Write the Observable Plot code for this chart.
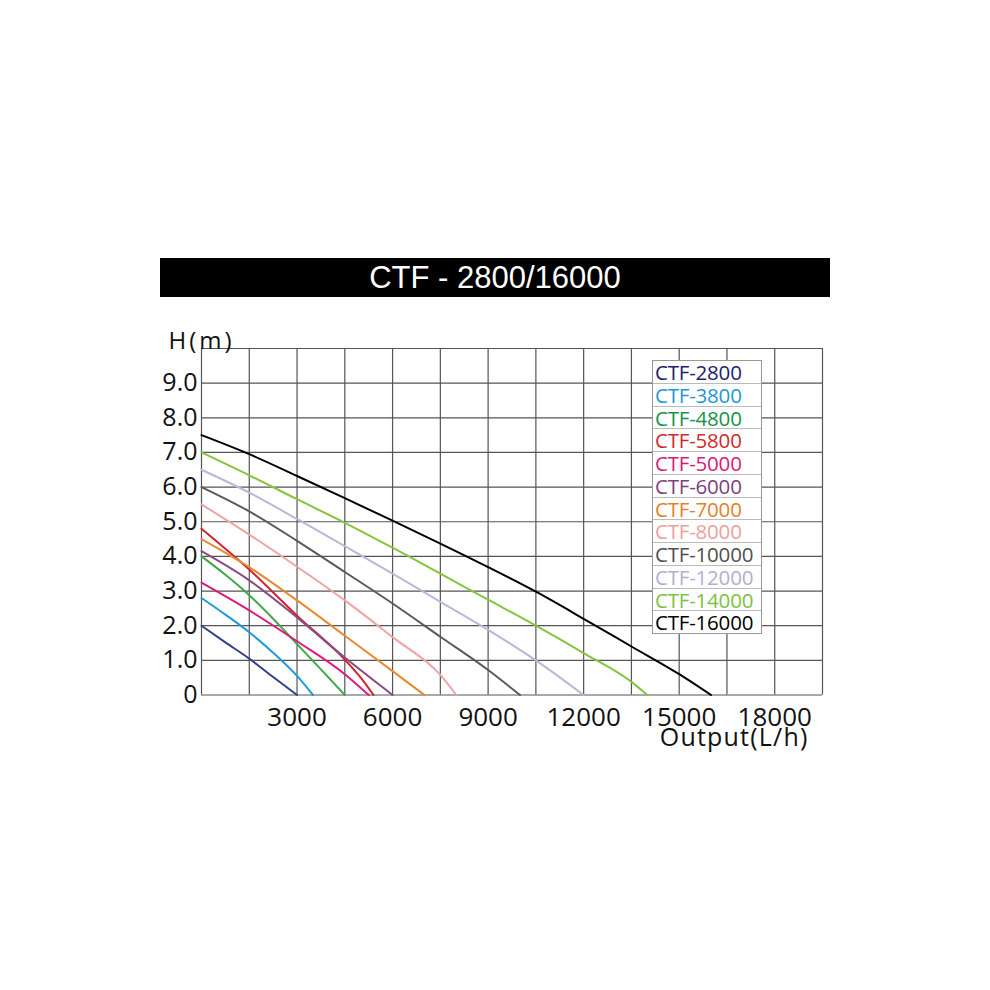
<!DOCTYPE html>
<html>
<head>
<meta charset="utf-8">
<script src="https://cdn.jsdelivr.net/npm/d3@7"></script>
<script src="https://cdn.jsdelivr.net/npm/@observablehq/plot@0.6"></script>
<style>
  body { margin: 0; background: #fff; }
  #page { position: relative; width: 990px; height: 990px; background: #fff; }
  #title {
    position: absolute; left: 160px; top: 258px; width: 670px; height: 39px;
    background: #000; color: #fff; text-align: center; line-height: 39px;
    font-family: "Liberation Sans", Arial, sans-serif; font-size: 31px;
  }
  #chart { position: absolute; left: 0; top: 300px; }
  #legend {
    position: absolute; left: 652px; top: 360px; width: 108px;
    border: 1px solid #999; background: #fff;
    font-family: "Open Sans", sans-serif; font-size: 20.5px;
  }
  #legend div {
    height: 21.75px; line-height: 22px; padding-left: 2px; white-space: nowrap;
    border-bottom: 1px solid #bbb; letter-spacing: -0.2px;
  }
  #legend div:last-child { border-bottom: none; }
</style>
</head>
<body>
<div id="page">
  <div id="title">CTF - 2800/16000</div>
  <div id="chart"></div>
  <div id="legend"></div>
</div>
<script>
// models and colours, in legend order
const models = ["CTF-2800", "CTF-3800", "CTF-4800", "CTF-5800", "CTF-5000", "CTF-6000",
                "CTF-7000", "CTF-8000", "CTF-10000", "CTF-12000", "CTF-14000", "CTF-16000"];
const lineColors = ["#33408a", "#1f9bd7", "#3fa84b", "#d3222b", "#dc1b7b", "#8a4a86",
                    "#e9892f", "#eea4a4", "#5a5a5a", "#b9b9d7", "#86c440", "#000000"];
const textColors = ["#201e6c", "#1b98d5", "#17934a", "#d12a2a", "#d81b7a", "#7d3f7d",
                    "#e47f2a", "#eca1a1", "#4f4f4f", "#b0b0d0", "#7cc242", "#000000"];

// flow (L/h) and head (m) per model
const flow2800 = [0, 750, 1500, 2250, 3000];
const head2800 = [2.0, 1.52, 1.05, 0.52, 0];
const flow3800 = [0, 750, 1500, 2250, 3000, 3500];
const head3800 = [2.8, 2.32, 1.81, 1.22, 0.55, 0];
const flow4800 = [0, 750, 1500, 2250, 3000, 3750, 4500];
const head4800 = [4.0, 3.47, 2.88, 2.2, 1.47, 0.74, 0];
const flow5800 = [0, 1500, 3000, 4500, 5000, 5400];
const head5800 = [4.8, 3.62, 2.29, 1.02, 0.5, 0];
const flow5000 = [0, 1500, 3000, 4500, 5250];
const head5000 = [3.24, 2.44, 1.55, 0.6, 0];
const flow6000 = [0, 1500, 3000, 4500, 6000];
const head6000 = [4.15, 3.31, 2.24, 1.08, 0];
const flow7000 = [0, 1500, 3000, 4500, 6000, 7000];
const head7000 = [4.5, 3.69, 2.73, 1.71, 0.69, 0];
const flow8000 = [0, 1500, 3000, 4500, 6000, 7500, 8000];
const head8000 = [5.5, 4.63, 3.7, 2.73, 1.67, 0.58, 0];
const flow10000 = [0, 1500, 3000, 4500, 6000, 7500, 9000, 10000];
const head10000 = [6.0, 5.3, 4.45, 3.55, 2.64, 1.68, 0.72, 0];
const flow12000 = [0, 1500, 3000, 4500, 6000, 7500, 9000, 10500, 12000];
const head12000 = [6.5, 5.84, 5.08, 4.3, 3.5, 2.69, 1.88, 1.0, 0];
const flow14000 = [0, 1500, 3000, 4500, 6000, 7500, 9000, 10500, 12000, 13500, 14000];
const head14000 = [7.0, 6.34, 5.65, 4.97, 4.25, 3.5, 2.75, 2.0, 1.21, 0.38, 0];
const flow16000 = [0, 1500, 3000, 4500, 6000, 7500, 9000, 10500, 12000, 13500, 15000, 16000];
const head16000 = [7.5, 6.95, 6.32, 5.68, 5.03, 4.37, 3.69, 2.98, 2.2, 1.4, 0.6, 0];

const flows = [flow2800, flow3800, flow4800, flow5800, flow5000, flow6000,
               flow7000, flow8000, flow10000, flow12000, flow14000, flow16000];
const heads = [head2800, head3800, head4800, head5800, head5000, head6000,
               head7000, head8000, head10000, head12000, head14000, head16000];

// axes
const xTicks = [3000, 6000, 9000, 12000, 15000, 18000];
const yTicks = [0, 1, 2, 3, 4, 5, 6, 7, 8, 9];
const xGrid = [0, 1500, 3000, 4500, 6000, 7500, 9000, 10500, 12000, 13500, 15000, 16500, 18000, 19500];
const yGrid = [0, 1, 2, 3, 4, 5, 6, 7, 8, 9, 10];

const rows = models.flatMap((m, i) => flows[i].map((f, j) => ({model: m, flow: f, head: heads[i][j]})));

const gridStyle = {stroke: "#555", strokeWidth: 1.2, strokeOpacity: 1};

const chart = Plot.plot({
  width: 990,
  height: 500,
  marginLeft: 201,
  marginRight: 168,
  marginTop: 48,
  marginBottom: 105.5,
  style: {fontFamily: "Open Sans, sans-serif", fontSize: "25px", color: "#111", background: "transparent"},
  x: {domain: [0, 19500], axis: null, label: null},
  y: {domain: [0, 10], axis: null, label: null},
  color: {domain: models, range: lineColors},
  marks: [
    Plot.ruleX(xGrid, gridStyle),
    Plot.ruleY(yGrid, gridStyle),
    Plot.line(rows, {x: "flow", y: "head", z: "model", stroke: "model", strokeWidth: 2, curve: "monotone-x"}),
    Plot.axisX(xTicks, {tickSize: 0, tickPadding: 13, fontSize: 26, fill: "#111", label: null,
      tickFormat: d => String(d)}),
    Plot.axisY(yTicks, {tickSize: 0, tickPadding: 4, fontSize: 25, fill: "#111", label: null,
      tickFormat: d => d === 0 ? "0" : d.toFixed(1)}),
    Plot.text(["H(m)"], {frameAnchor: "top-left", textAnchor: "start", dx: -33, dy: -17,
      fontSize: 24, fill: "#111"}),
    Plot.text(["Output(L/h)"], {frameAnchor: "bottom-right", textAnchor: "end", dx: -14, dy: 51,
      fontSize: 25, fill: "#111"})
  ]
});
chart.querySelectorAll("text").forEach(t => {
  if (t.textContent === "H(m)") t.style.letterSpacing = "3px";
  if (t.textContent === "Output(L/h)") t.style.letterSpacing = "1.2px";
});
document.getElementById("chart").append(chart);

const legend = document.getElementById("legend");
models.forEach((m, i) => {
  const row = document.createElement("div");
  row.textContent = m;
  row.style.color = textColors[i];
  legend.append(row);
});
</script>
</body>
</html>
